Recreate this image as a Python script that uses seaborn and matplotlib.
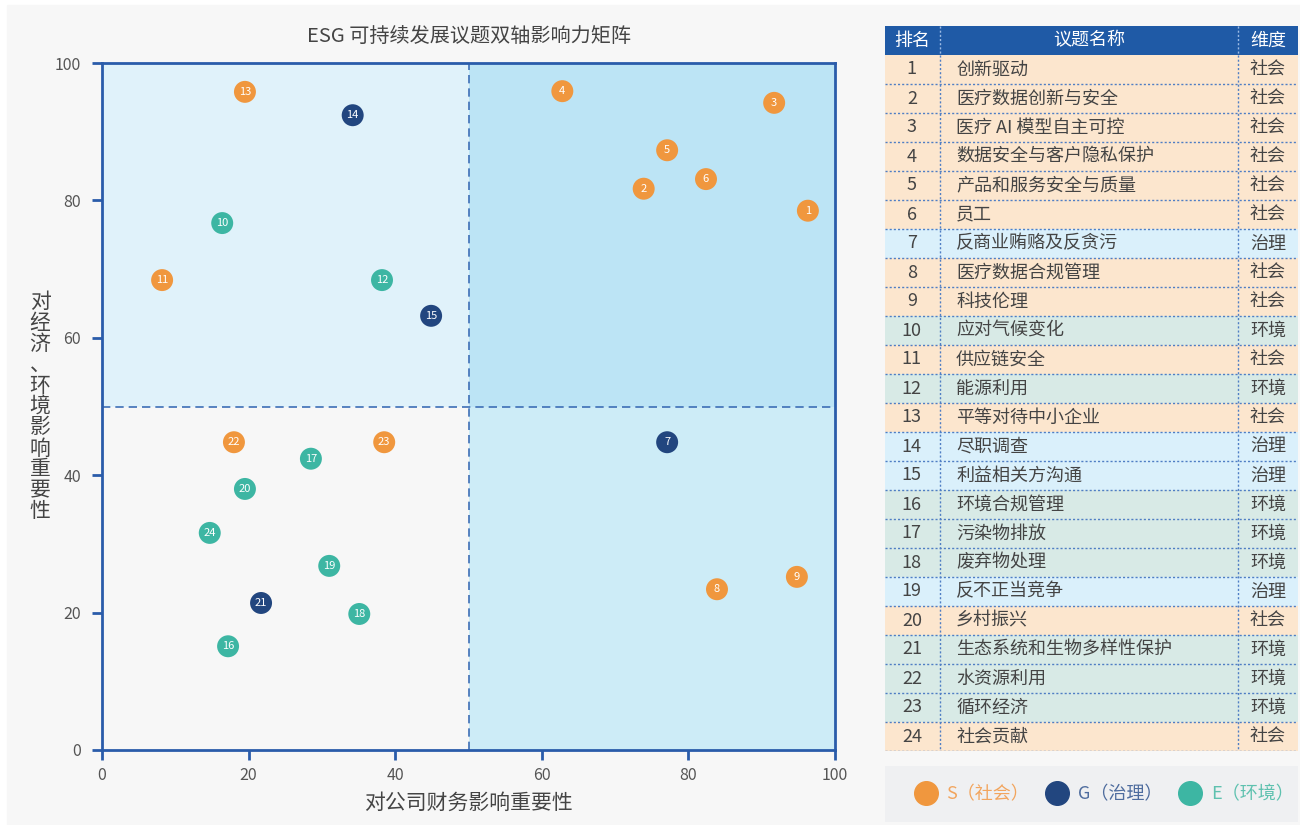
import matplotlib
matplotlib.use('Agg')
import numpy as np
import pandas as pd
import seaborn as sns
import matplotlib.pyplot as plt
from matplotlib.lines import Line2D

# data
ranks = list(range(1, 25))
topics = ['创新驱动', '医疗数据创新与安全', '医疗 AI 模型自主可控', '数据安全与客户隐私保护',
          '产品和服务安全与质量', '员工', '反商业贿赂及反贪污', '医疗数据合规管理', '科技伦理',
          '应对气候变化', '供应链安全', '能源利用', '平等对待中小企业', '尽职调查',
          '利益相关方沟通', '环境合规管理', '污染物排放', '废弃物处理', '反不正当竞争',
          '乡村振兴', '生态系统和生物多样性保护', '水资源利用', '循环经济', '社会贡献']
table_dims = ['社会', '社会', '社会', '社会', '社会', '社会', '治理', '社会', '社会',
              '环境', '社会', '环境', '社会', '治理', '治理', '环境', '环境', '环境', '治理',
              '社会', '环境', '环境', '环境', '社会']
financial = [96.3, 73.9, 91.7, 62.8, 77.1, 82.4, 77.1, 83.9, 94.8, 16.4, 8.2, 38.2,
             19.5, 34.2, 44.9, 17.2, 28.5, 35.1, 31.0, 19.5, 21.7, 18.0, 38.5, 14.7]
impact = [78.5, 81.7, 94.2, 95.9, 87.3, 83.1, 44.8, 23.4, 25.2, 76.7, 68.4, 68.4,
          95.8, 92.4, 63.2, 15.1, 42.4, 19.8, 26.8, 38.0, 21.4, 44.8, 44.8, 31.6]
dot_dims = ['S', 'S', 'S', 'S', 'S', 'S', 'G', 'S', 'S', 'E', 'S', 'E',
            'S', 'G', 'G', 'E', 'E', 'E', 'E', 'E', 'G', 'S', 'S', 'E']

legend_keys = ['S', 'G', 'E']
legend_labels = ['S（社会）', 'G（治理）', 'E（环境）']
dot_colors = {'S': '#F0973E', 'G': '#22467F', 'E': '#3DB6A3'}
legend_text_colors = ['#F2A55E', '#4E6C9E', '#5EC1AF']
row_colors = {'社会': '#FCE6CE', '治理': '#DAF0FB', '环境': '#D8EAE6'}

df = pd.DataFrame({'rank': ranks, 'topic': topics, 'table_dim': table_dims,
                   'financial': financial, 'impact': impact, 'dim': dot_dims})

sns.set_theme(style='white')
plt.rcParams['font.family'] = ['Noto Sans CJK SC', 'DejaVu Sans']

BLUE = '#2A5CAA'
TEXT = '#444444'

fig = plt.figure(figsize=(13, 8.25), dpi=100, facecolor='white')
fig.patches.append(plt.Rectangle((7 / 1300, 0), 1, 820 / 825, transform=fig.transFigure,
                                 color='#F7F7F7', zorder=-10))

# ---- matrix ----
ax = fig.add_axes([102 / 1300, 75 / 825, 733 / 1300, 687 / 825])
ax.set_facecolor('#F7F7F7')
ax.set_xlim(0, 100)
ax.set_ylim(0, 100)
ax.axhspan(50, 100, xmin=0, xmax=0.5, color='#E0F2FA', lw=0, zorder=0)
ax.axhspan(50, 100, xmin=0.5, xmax=1, color='#BCE4F5', lw=0, zorder=0)
ax.axhspan(0, 50, xmin=0.5, xmax=1, color='#CDECF7', lw=0, zorder=0)
ax.axvline(50, color='#3D6FB6', lw=1.2, ls=(0, (5, 3)), zorder=1)
ax.axhline(50, color='#3D6FB6', lw=1.2, ls=(0, (5, 3)), zorder=1)

sns.scatterplot(data=df, x='financial', y='impact', hue='dim', palette=dot_colors,
                s=250, linewidth=0, legend=False, ax=ax, zorder=3)
for _, row in df.iterrows():
    ax.text(row['financial'], row['impact'], str(row['rank']), ha='center', va='center',
            color='white', fontsize=8, zorder=4)

for sp in ax.spines.values():
    sp.set_visible(True)
    sp.set_color(BLUE)
    sp.set_linewidth(2)
ax.set_xticks(np.arange(0, 101, 20))
ax.set_yticks(np.arange(0, 101, 20))
ax.tick_params(axis='both', direction='out', length=7, width=2, color=BLUE,
               labelsize=11.5, labelcolor='#555555', bottom=True, left=True)
ax.tick_params(axis='x', pad=5)
ax.tick_params(axis='y', pad=8)

ax.set_xlabel('对公司财务影响重要性', fontsize=15, color=TEXT)
ax.xaxis.set_label_coords(0.5, -0.077)
ax.xaxis.label.set_va('center')
ax.set_ylabel('\n'.join('对经济、环境影响重要性'), fontsize=15, color=TEXT,
              rotation=0, linespacing=0.94)
ax.yaxis.set_label_coords(-0.0846, 0.5)
ax.yaxis.label.set_va('center')
ax.yaxis.label.set_ha('center')
ax.text(0.5, 1.038, 'ESG 可持续发展议题双轴影响力矩阵', transform=ax.transAxes,
        ha='center', va='center', fontsize=14.5, color=TEXT)

# ---- table ----
tax = fig.add_axes([885 / 1300, 74 / 825, 413 / 1300, 725 / 825])
tax.set_xlim(0, 1)
tax.set_ylim(24.5, -0.5)
tax.barh(df['rank'], 1, height=1, left=0, color=[row_colors[d] for d in df['table_dim']],
         linewidth=0)
tax.barh([0], 1, height=1, left=0, color='#1F5AA6', linewidth=0)
col_edges = [0.133, 0.855]
tax.hlines(df['rank'] + 0.5, 0, 1, colors='#4F7EC4', linestyles=(0, (1.5, 1.5)), lw=1)
tax.vlines(col_edges, 0.5, 24.5, colors='#4F7EC4', linestyles=(0, (1.5, 1.5)), lw=1)
tax.vlines(col_edges, -0.5, 0.5, colors='#9DBBE4', linestyles=(0, (1.5, 1.5)), lw=1)
for txt, xpos in zip(['排名', '议题名称', '维度'], [0.065, 0.494, 0.927]):
    tax.text(xpos, 0, txt, ha='center', va='center', color='white', fontsize=13)
for _, row in df.iterrows():
    tax.text(0.065, row['rank'], str(row['rank']), ha='center', va='center',
             color=TEXT, fontsize=13)
    tax.text(0.172, row['rank'], row['topic'], ha='left', va='center',
             color=TEXT, fontsize=13)
    tax.text(0.927, row['rank'], row['table_dim'], ha='center', va='center',
             color=TEXT, fontsize=13)
tax.axis('off')

# ---- legend ----
lax = fig.add_axes([885 / 1300, 3 / 825, 413 / 1300, 56 / 825])
lax.set_facecolor('#EFF0F2')
lax.set_xticks([])
lax.set_yticks([])
for sp in lax.spines.values():
    sp.set_visible(False)
handles = [Line2D([], [], marker='o', linestyle='', markersize=17,
                  markerfacecolor=dot_colors[k], markeredgecolor=dot_colors[k])
           for k in legend_keys]
leg = lax.legend(handles, legend_labels, loc='center', ncol=3, frameon=False,
                 fontsize=13, handlelength=1.3, handletextpad=0.5, columnspacing=0.9,
                 bbox_to_anchor=(0.53, 0.5))
for t, c in zip(leg.get_texts(), legend_text_colors):
    t.set_color(c)

fig.savefig('out.png', dpi=100, facecolor=fig.get_facecolor())
